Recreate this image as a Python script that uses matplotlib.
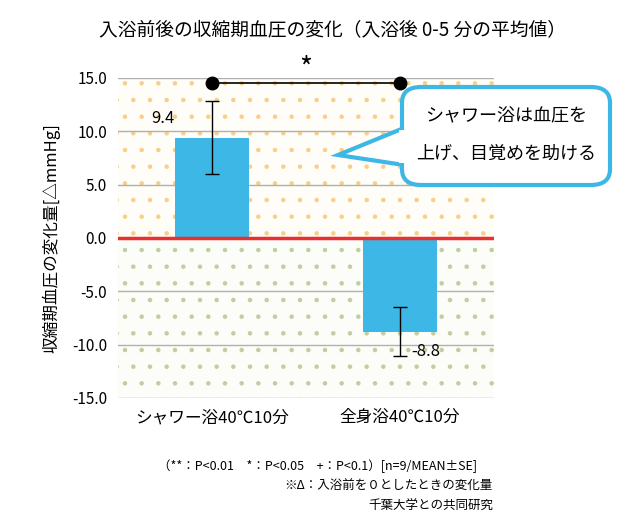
import matplotlib
matplotlib.use("Agg")
import matplotlib.pyplot as plt
from matplotlib.patches import FancyBboxPatch, Polygon, Rectangle
plt.rcParams['font.family'] = ['Noto Sans CJK JP', 'DejaVu Sans']
plt.rcParams['hatch.linewidth'] = 0.8

categories = ["シャワー浴40℃10分", "全身浴40℃10分"]
values = [9.4, -8.8]
errors = [3.4, 2.3]
yticks = [15, 10, 5, 0, -5, -10, -15]

fig = plt.figure(figsize=(6.4, 5.26), dpi=100)
ax = fig.add_axes([118/640, 1-398/526, 376/640, 320/526])
ax.set_xlim(0, 2); ax.set_ylim(-15, 15)
ax.add_patch(Rectangle((0, 0), 2, 15, facecolor='#fffdf8', edgecolor='#f8cf8a', hatch='.', lw=0, zorder=0))
ax.add_patch(Rectangle((0, -15), 2, 15, facecolor='#fcfdf8', edgecolor='#bdd0a0', hatch='.', lw=0, zorder=0))
for t in yticks:
    ax.axhline(t, color='#b0b0b0', lw=1, zorder=1)
xs = [0.5, 1.5]
ax.bar(xs, values, width=0.39, color='#3db8e6', zorder=2)
ax.errorbar(xs, values, yerr=errors, fmt='none', ecolor='black', capsize=5, lw=1, zorder=3)
ax.axhline(0, color='#e83030', lw=2.5, zorder=4)
ax.text(0.5-0.2, values[0]+1.0, "9.4", ha='right', va='bottom', fontsize=12, zorder=5)
ax.text(1.5+0.06, values[1]-1.0, "-8.8", ha='left', va='top', fontsize=12, zorder=5)
ax.plot([0.5, 1.5], [14.5, 14.5], color='black', lw=1.2, marker='o', ms=9, clip_on=False, zorder=5)
ax.text(1.0, 14.4, "*", ha='center', va='bottom', fontsize=20)
ax.set_yticks(yticks)
ax.set_yticklabels([f"{t:.1f}" for t in yticks], fontsize=11)
ax.set_xticks(xs); ax.set_xticklabels(categories, fontsize=12)
ax.tick_params(length=0, pad=8)
for s in ax.spines.values(): s.set_visible(False)
ax.set_ylabel("収縮期血圧の変化量[△mmHg]", fontsize=12, labelpad=8)

fig.text(0.52, 1-30/526, "入浴前後の収縮期血圧の変化（入浴後 0-5 分の平均値）", ha='center', va='center', fontsize=13.5)

W, H = 640, 526
box = FancyBboxPatch((402/W, 1-185/H), 208/W, 98/H, boxstyle="round,pad=0,rounding_size=0.03",
                     transform=fig.transFigure, facecolor='white', edgecolor='#3db8e6', lw=3, zorder=10)
fig.patches.append(box)
tail = Polygon([(404/W, 1-128/H), (338/W, 1-155/H), (404/W, 1-165/H)], closed=True,
               transform=fig.transFigure, facecolor='white', edgecolor='#3db8e6', lw=3, zorder=9)
fig.patches.append(tail)
fig.patches.append(Rectangle((399/W, 1-163/H), 10/W, 33/H, transform=fig.transFigure, facecolor='white', lw=0, zorder=11))
fig.text(506/W, 1-116/H, "シャワー浴は血圧を", ha='center', va='center', fontsize=13, zorder=12)
fig.text(506/W, 1-154/H, "上げ、目覚めを助ける", ha='center', va='center', fontsize=13, zorder=12)

fig.text(318/W, 1-466/H, "（**：P<0.01　*：P<0.05　+：P<0.1）[n=9/MEAN±SE]", ha='center', va='center', fontsize=9)
fig.text(493/W, 1-486/H, "※Δ：入浴前を０としたときの変化量", ha='right', va='center', fontsize=9)
fig.text(493/W, 1-506/H, "千葉大学との共同研究", ha='right', va='center', fontsize=9)
fig.savefig("out.png", dpi=100)
